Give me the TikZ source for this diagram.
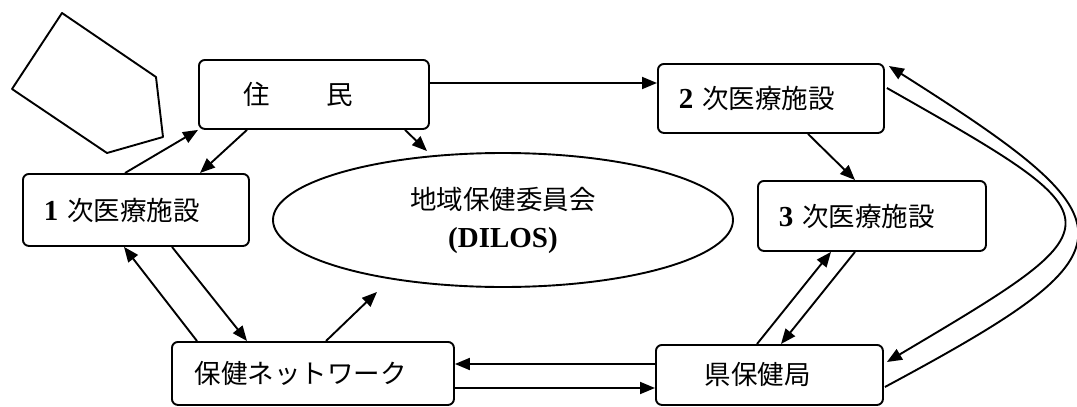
\documentclass[tikz,border=0pt]{standalone}
\usepackage{fontspec}
\setmainfont{Liberation Serif}
\newfontfamily\jp{Noto Sans CJK JP}
\usetikzlibrary{arrows.meta,calc,shapes.geometric}
\newcommand{\dig}[1]{{\rmfamily\bfseries\fontsize{29}{30}\selectfont #1}}
\begin{document}
\begin{tikzpicture}[x=1pt,y=-1pt,
  box/.style={draw, line width=1.9pt, rounded corners=6pt, anchor=north west, inner ysep=0pt, align=left, font=\fontsize{26.5}{30}\selectfont\jp},
  arr/.style={line width=1.9pt, -{Triangle[length=15pt,width=12pt]}},
  plain/.style={line width=1.9pt, line join=round}]
\useasboundingbox (0,0) rectangle (1077,407);

\node[box, minimum width=230pt, minimum height=69pt, text width=140pt, inner xsep=45pt] (jumin) at (198,59) {住\hspace{2.1em}民};
\node[box, minimum width=226pt, minimum height=72pt, text width=184pt, inner xsep=21pt] (first) at (22,173) {\dig{1} 次医療施設};
\node[box, minimum width=226pt, minimum height=69pt, text width=184pt, inner xsep=21pt] (second) at (657,63) {\dig{2} 次医療施設};
\node[box, minimum width=228pt, minimum height=70pt, text width=186pt, inner xsep=21pt] (third) at (757,180) {\dig{3} 次医療施設};
\node[box, minimum width=227pt, minimum height=60pt, text width=129pt, inner xsep=49pt] (ken) at (655,344) {県保健局};
\node[box, minimum width=282pt, minimum height=63pt, text width=236pt, inner xsep=23pt] (net) at (171,341) {保健ネットワーク};
\node[draw, ellipse, line width=1.9pt, minimum width=460pt, minimum height=134pt, inner sep=0pt, align=center, font=\fontsize{26.5}{38}\selectfont\jp] (ell) at (503,220) {地域保健委員会\\{\rmfamily\bfseries\fontsize{29}{38}\selectfont (DILOS)}};

% pentagon
\draw[plain] (62,13) -- (156,77) -- (163,137) -- (107,153) -- (12,89) -- cycle;

% jumin <-> first
\draw[arr] ($(first.north west)+(103,0)$) -- (jumin.south west);
\draw[arr] ($(jumin.south west)+(49,0)$) -- ($(first.north west)+(178,0)$);
% jumin -> ellipse
\draw[arr] ($(jumin.south west)+(207,0)$) -- ($(ell.north)+(-76,-1)$);
% jumin -> second
\draw[arr] ($(jumin.north east)+(0,24)$) -- ($(second.north west)+(0,20)$);
% second -> third
\draw[arr] ($(second.south west)+(151,0)$) -- ($(third.north west)+(98,0)$);
% ken <-> third
\draw[arr] ($(ken.north west)+(102,0)$) -- ($(third.south west)+(74,0)$);
\draw[arr] ($(third.south west)+(98,0)$) -- ($(ken.north west)+(126,0)$);
% ken <-> net
\draw[arr] ($(ken.north west)+(0,20)$) -- ($(net.north east)+(0,23)$);
\draw[arr] ($(net.north east)+(0,47)$) -- ($(ken.north west)+(0,44)$);
% net <-> first
\draw[arr] ($(net.north west)+(26,0)$) -- ($(first.south west)+(102,0)$);
\draw[arr] ($(first.south west)+(150,0)$) -- ($(net.north west)+(76,0)$);
% net -> ellipse
\draw[arr] ($(net.north west)+(155,0)$) -- ($(ell.south)+(-126,4)$);
% curves right
\draw[arr] ($(ken.north east)+(1,43)$) .. controls (1140,250) and (1140,225) .. ($(second.north east)+(4,3)$);
\draw[arr] ($(second.north east)+(2,25)$) .. controls (1123,222) and (1123,222) .. ($(ken.north east)+(3,18)$);
\end{tikzpicture}
\end{document}
